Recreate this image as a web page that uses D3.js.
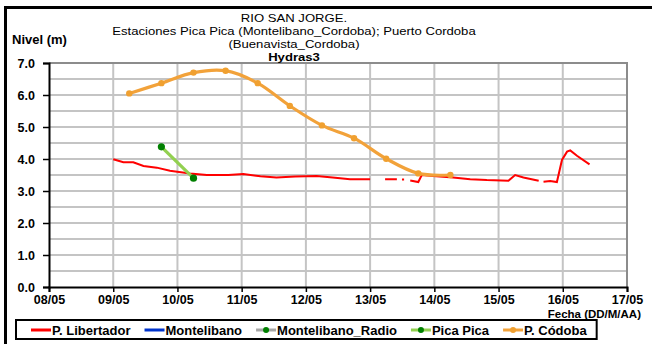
<!DOCTYPE html>
<html>
<head>
<meta charset="utf-8">
<script src="https://cdn.jsdelivr.net/npm/d3@7/dist/d3.min.js"></script>
<style>
  html, body { margin: 0; padding: 0; background: #fff; }
  svg { display: block; font-family: "Liberation Sans", Arial, sans-serif; }
</style>
</head>
<body>
<svg id="chart" width="652" height="344"></svg>
<script>
// Axis labels (days since 08/05, 00:00)
const dayLabels = ["08/05", "09/05", "10/05", "11/05", "12/05", "13/05", "14/05", "15/05", "16/05", "17/05"];
const levelTicks = [0, 1, 2, 3, 4, 5, 6, 7];

// P. Libertador: [hours since 08/05 00:00, level m]; null marks missing readings
const libertador = [
  [24.0, 3.99], [27.8, 3.90], [31.5, 3.90], [35.3, 3.78], [40.3, 3.73], [45.2, 3.63],
  [52.7, 3.55], [59.0, 3.50], [67.0, 3.50], [72.6, 3.53], [79.0, 3.46], [85.0, 3.42],
  [92.0, 3.45], [100.0, 3.47], [106.0, 3.42], [112.5, 3.37], [120.0, 3.37],
  [122.5, null],
  [125.6, 3.37], [130.0, 3.37],
  [131.2, null],
  [131.9, 3.36], [132.7, 3.36],
  [133.8, null],
  [135.0, 3.33], [138.0, 3.28], [139.3, 3.50], [143.5, 3.47], [151.0, 3.42], [157.4, 3.37],
  [163.6, 3.34], [171.7, 3.32], [174.2, 3.50], [177.3, 3.42], [183.0, 3.32],
  [184.0, null],
  [184.8, 3.29], [187.3, 3.31], [189.8, 3.28], [191.7, 3.97], [193.6, 4.23], [194.8, 4.27],
  [197.3, 4.10], [202.0, 3.83]
];

// Montelibano and Montelibano_Radio: no readings in this period
const montelibano = [];
const montelibanoRadio = [];

// Pica Pica: [hours, level]
const picaPica = [[42, 4.38], [54, 3.40]];

// P. Códoba: twice-daily readings [hours, level]
const cordobaHours = [30, 42, 54, 66, 78, 90, 102, 114, 126, 138, 150];
const cordobaLevels = [6.05, 6.37, 6.70, 6.76, 6.37, 5.66, 5.05, 4.65, 4.01, 3.55, 3.50];

const legendNames = ["P. Libertador", "Montelibano", "Montelibano_Radio", "Pica Pica", "P. Códoba"];
const titleLines = ["RIO SAN JORGE.", "Estaciones Pica Pica (Montelibano_Cordoba); Puerto Cordoba", "(Buenavista_Cordoba)", "Hydras3"];

const svg = d3.select("#chart");
const plotL = 49, plotR = 627, plotT = 63, plotB = 287;

const x = d3.scaleLinear().domain([0, 9 * 24]).range([plotL, plotR]);
const y = d3.scaleLinear().domain([0, 7]).range([plotB, plotT]);

// outer frame
svg.append("rect")
  .attr("x", 5.5).attr("y", 7.5).attr("width", 700).attr("height", 400)
  .attr("fill", "none").attr("stroke", "#000").attr("stroke-width", 3);

// grid
const grid = svg.append("g");
grid.selectAll("line.h").data(d3.range(0.5, 7, 0.5)).join("line")
  .attr("x1", plotL).attr("x2", plotR)
  .attr("y1", d => y(d)).attr("y2", d => y(d))
  .attr("stroke", "#c4c4c4").attr("stroke-width", 2);
grid.selectAll("line.v").data(d3.range(1, 9)).join("line")
  .attr("x1", d => x(d * 24)).attr("x2", d => x(d * 24))
  .attr("y1", plotT).attr("y2", plotB)
  .attr("stroke", "#c4c4c4").attr("stroke-width", 2);

// plot border (top/right)
svg.append("path")
  .attr("d", `M${plotL},${plotT}H${plotR}V${plotB}`)
  .attr("fill", "none").attr("stroke", "#8c8c8c").attr("stroke-width", 2);

// axes
const yAxis = d3.axisLeft(y).tickValues(levelTicks).tickFormat(d3.format(".1f")).tickSize(6).tickPadding(8);
const xAxis = d3.axisBottom(x).tickValues(d3.range(0, 10).map(d => d * 24))
  .tickFormat((d, i) => dayLabels[i]).tickSize(5).tickPadding(3);

const gy = svg.append("g").attr("transform", `translate(${plotL},0)`).call(yAxis);
const gx = svg.append("g").attr("transform", `translate(0,${plotB})`).call(xAxis);
[gx, gy].forEach(g => {
  g.select(".domain").attr("stroke", "#000").attr("stroke-width", 2);
  g.selectAll(".tick line").attr("stroke", "#000").attr("stroke-width", 1.5);
  g.selectAll("text").attr("font-family", "Liberation Sans, Arial, sans-serif")
    .attr("font-size", 12.5).attr("font-weight", "bold").attr("fill", "#000");
});

// series
const line = d3.line().defined(d => d[1] !== null).x(d => x(d[0])).y(d => y(d[1]));

svg.append("path").datum(libertador)
  .attr("d", line).attr("fill", "none").attr("stroke", "#ff0000").attr("stroke-width", 2);

const cordoba = cordobaHours.map((h, i) => [h, cordobaLevels[i]]);
const smooth = d3.line().x(d => x(d[0])).y(d => y(d[1])).curve(d3.curveCatmullRom.alpha(0.5));
svg.append("path").datum(cordoba)
  .attr("d", smooth)
  .attr("fill", "none").attr("stroke", "#f2a23a").attr("stroke-width", 3.2);
svg.selectAll("circle.cor").data(cordoba).join("circle")
  .attr("cx", d => x(d[0])).attr("cy", d => y(d[1])).attr("r", 3.2).attr("fill", "#f0a030");

const straight = d3.line().x(d => x(d[0])).y(d => y(d[1]));
svg.append("path").datum(picaPica)
  .attr("d", straight).attr("fill", "none").attr("stroke", "#92d050").attr("stroke-width", 3.2);
svg.selectAll("circle.pp").data(picaPica).join("circle")
  .attr("cx", d => x(d[0])).attr("cy", d => y(d[1])).attr("r", 3.6).attr("fill", "#008000");

// titles: compact line spacing, glyphs widened to the wide title face
const tg = svg.append("g").attr("text-anchor", "middle").attr("font-size", 11.6).attr("fill", "#000");
titleLines.forEach((t, i) => {
  const el = tg.append("text").attr("x", 294).attr("y", 21.5 + i * 13).text(t);
  if (i === titleLines.length - 1) el.attr("font-weight", "bold");
  const w = el.node().getComputedTextLength();
  el.attr("textLength", w * 1.13).attr("lengthAdjust", "spacingAndGlyphs");
});

svg.append("text").attr("x", 12).attr("y", 44).attr("font-size", 13).attr("font-weight", "bold").text("Nivel (m)");
svg.append("text").attr("x", 641).attr("y", 318).attr("text-anchor", "end")
  .attr("font-size", 11.5).attr("font-weight", "bold").text("Fecha (DD/M/AA)");

// legend
const legendStyles = [
  { stroke: "#ff0000", marker: null },
  { stroke: "#0033cc", marker: null },
  { stroke: "#a6a6a6", marker: "#008000" },
  { stroke: "#92d050", marker: "#008000" },
  { stroke: "#f2a23a", marker: "#f0a030" }
];
const lg = svg.append("g");
const ly = 330;
let lx = 31;
legendNames.forEach((name, i) => {
  const st = legendStyles[i];
  lg.append("line").attr("x1", lx).attr("x2", lx + 20).attr("y1", ly).attr("y2", ly)
    .attr("stroke", st.stroke).attr("stroke-width", 3);
  if (st.marker) lg.append("circle").attr("cx", lx + 10).attr("cy", ly).attr("r", 3).attr("fill", st.marker);
  const t = lg.append("text").attr("x", lx + 21).attr("y", ly + 4.5)
    .attr("font-size", 13).attr("font-weight", "bold").text(name);
  lx += 21 + t.node().getComputedTextLength() + 14;
});
lg.insert("rect", ":first-child")
  .attr("x", 16).attr("y", ly - 10).attr("width", lx - 16 - 4).attr("height", 19)
  .attr("fill", "#fff").attr("stroke", "#000").attr("stroke-width", 2);
</script>
</body>
</html>
